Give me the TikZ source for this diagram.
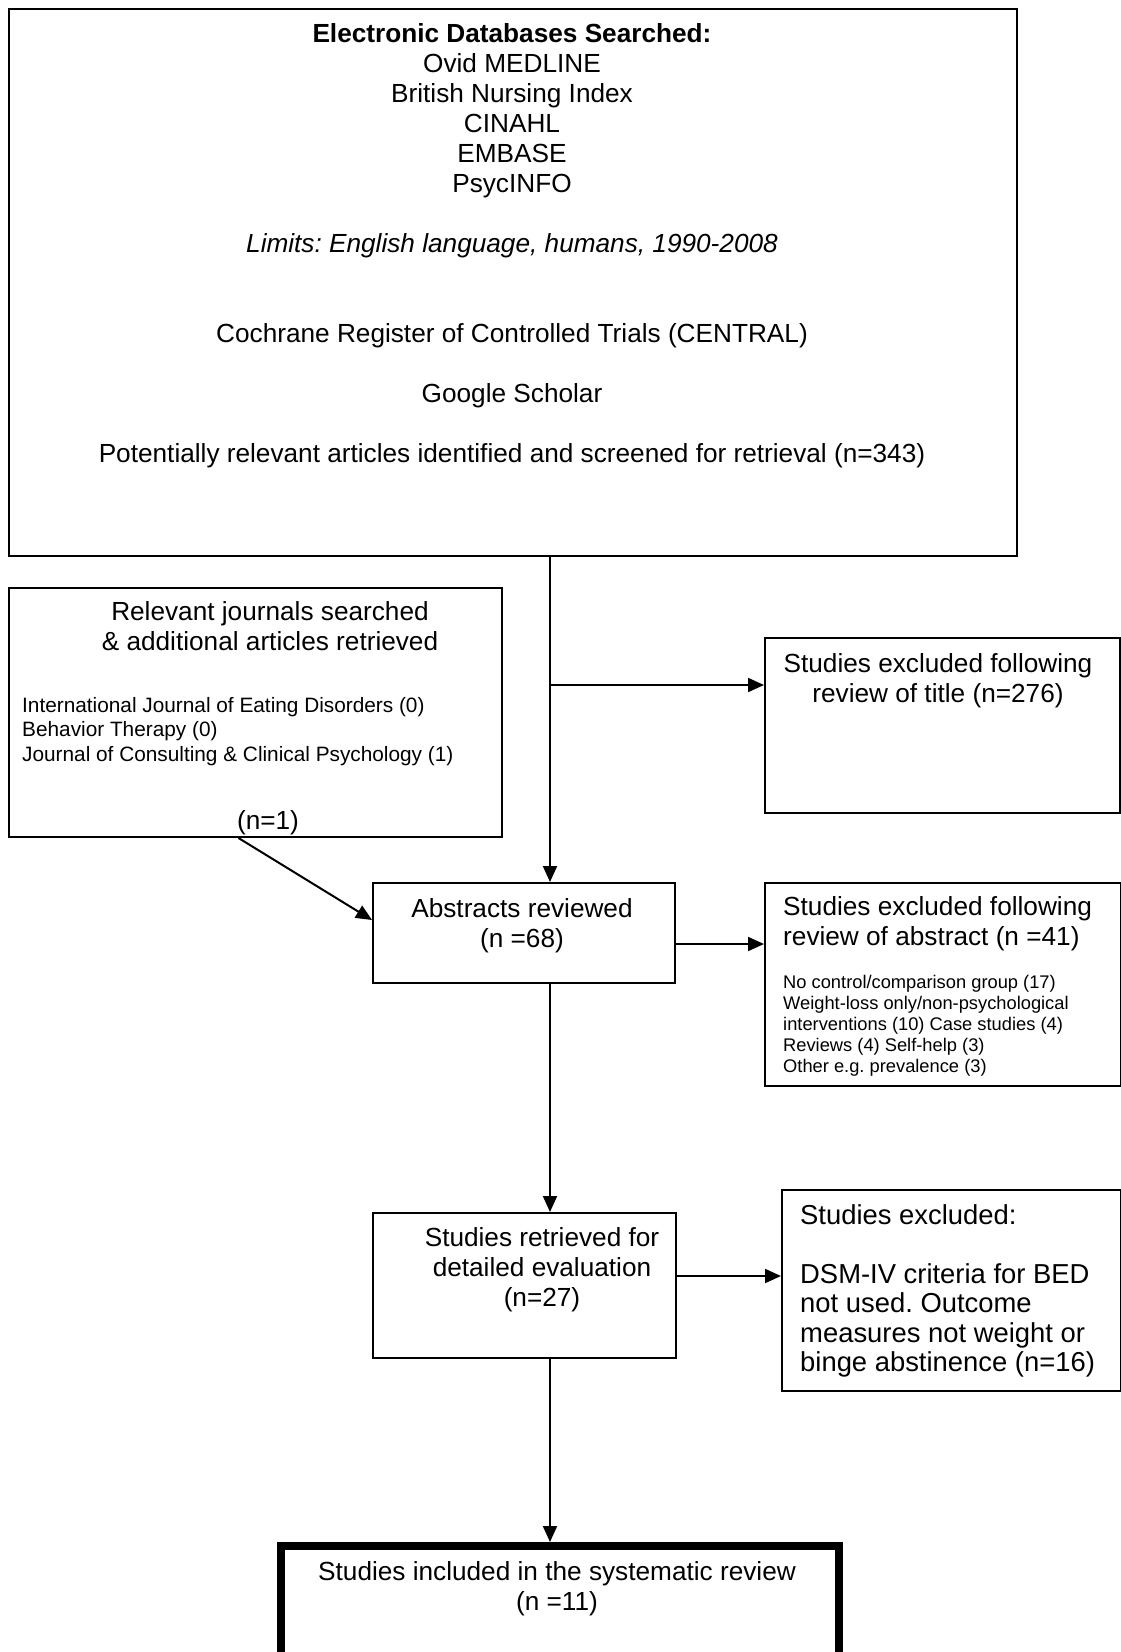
\documentclass[tikz,border=0pt]{standalone}
\usepackage{fontspec}
\setmainfont{Liberation Sans}
\usetikzlibrary{arrows.meta}
\frenchspacing

\tikzset{
  box/.style={draw, line width=2pt, anchor=north west, inner sep=0pt},
  txt/.style={inner sep=0pt, align=center, font=\fontsize{26.2}{30}\selectfont},
  lefttxt/.style={inner sep=0pt, align=left, anchor=north west},
  arr/.style={line width=2pt, -{Triangle[length=16pt,width=14pt]}}
}

\begin{document}
\begin{tikzpicture}[x=1pt,y=-1pt]
  \useasboundingbox (0,0) rectangle (1121,1652);
  \clip (0,0) rectangle (1121,1652);

  % boxes
  \node[box, minimum width=1008pt, minimum height=547pt] (search) at (8,8) {};
  \node[box, minimum width=493pt, minimum height=249pt] (jour) at (8,587) {};
  \node[box, minimum width=355pt, minimum height=175pt] (excltitle) at (764,637) {};
  \node[box, minimum width=302pt, minimum height=100pt] (abs) at (372,882) {};
  \node[box, minimum width=356pt, minimum height=203pt] (exclabs) at (764,882) {};
  \node[box, minimum width=303pt, minimum height=145pt] (retr) at (372,1212) {};
  \node[box, minimum width=339pt, minimum height=201pt] (exclfull) at (781,1189) {};
  \node[box, line width=8pt, minimum width=558pt, minimum height=200pt] (incl) at (277,1542) {};

  % texts
  \node[txt, anchor=north] (searchtxt) at (512,23)
    {\textbf{Electronic Databases Searched:}\\ Ovid MEDLINE\\ British Nursing Index\\
     CINAHL\\ EMBASE\\ PsycINFO\\[30pt]
     \textit{Limits: English language, humans, 1990-2008}\\[60pt]
     Cochrane Register of Controlled Trials (CENTRAL)\\[30pt]
     Google Scholar\\[30pt]
     Potentially relevant articles identified and screened for retrieval (n=343)};
  \node[txt, anchor=north] (jourtxt) at (270,601)
    {Relevant journals searched\\ \& additional articles retrieved};
  \node[lefttxt, font=\fontsize{20.8}{24.5}\selectfont] (jourlist) at (22,697)
    {International Journal of Eating Disorders (0)\\ Behavior Therapy (0)\\
     Journal of Consulting \& Clinical Psychology (1)};
  \node[txt, anchor=north] (journ) at (268,810) {(n=1)};
  \node[txt, anchor=north] (excltitletxt) at (938,653)
    {Studies excluded following\\ review of title (n=276)};
  \node[txt, anchor=north] (abstxt) at (522,898) {Abstracts reviewed\\ (n =68)};
  \node[lefttxt, font=\fontsize{26.2}{30}\selectfont] (exclabstxt) at (783,896)
    {Studies excluded following\\ review of abstract (n =41)};
  \node[lefttxt, font=\fontsize{18.3}{21}\selectfont] (exclablist) at (783,975)
    {No control/comparison group (17)\\ Weight-loss only/non-psychological\\
     interventions (10) Case studies (4)\\ Reviews (4) Self-help (3)\\
     Other e.g. prevalence (3)};
  \node[txt, anchor=north] (retrtxt) at (542,1227)
    {Studies retrieved for\\ detailed evaluation\\ (n=27)};
  \node[lefttxt, font=\fontsize{27.4}{29.5}\selectfont] (exclfulltxt) at (800,1204)
    {Studies excluded:\\[29.5pt] DSM-IV criteria for BED\\ not used. Outcome\\
     measures not weight or\\ binge abstinence (n=16)};
  \node[txt, anchor=north] (incltxt) at (557,1561)
    {Studies included in the systematic review\\ (n =11)};

  % connectors
  \coordinate (trunk) at (550,0);
  \coordinate (split) at (550,685);
  \draw[arr] (trunk |- search.south) -- (trunk |- abs.north);
  \draw[arr] (split) -- (split -| excltitle.west);
  \draw[arr] ([xshift=-17pt]jour.south) -- ([yshift=13pt]abs.west);
  \draw[arr] ([yshift=-11pt]abs.east) -- ([yshift=-11pt]abs.east -| exclabs.west);
  \draw[arr] (trunk |- abs.south) -- (trunk |- retr.north);
  \draw[arr] ([yshift=9.5pt]retr.east) -- ([yshift=9.5pt]retr.east -| exclfull.west);
  \draw[arr] (trunk |- retr.south) -- (trunk |- incl.north);
\end{tikzpicture}
\end{document}
